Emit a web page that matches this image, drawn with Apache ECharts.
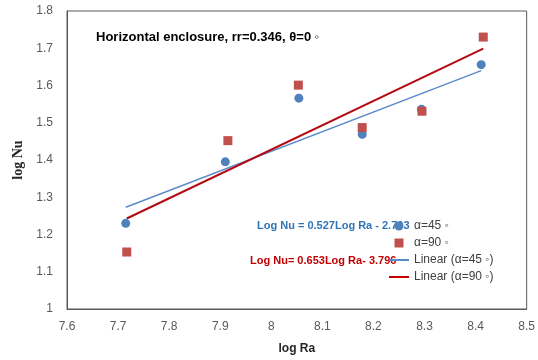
<!DOCTYPE html>
<html><head><meta charset="utf-8">
<script src="https://cdn.jsdelivr.net/npm/echarts@6/dist/echarts.min.js"></script>
<style>html,body{margin:0;padding:0;background:#fff}#c{width:538px;height:360px}</style>
</head><body><div id="c"></div>
<script>
const logRa45 = [7.715, 7.910, 8.054, 8.178, 8.294, 8.411];
const logNu45 = [1.230, 1.395, 1.566, 1.469, 1.536, 1.656];
const logRa90 = [7.717, 7.915, 8.053, 8.178, 8.295, 8.415];
const logNu90 = [1.153, 1.452, 1.601, 1.487, 1.531, 1.730];
const trend45X = [7.715, 8.411];
const trend45Y = [1.273, 1.640];
const trend90X = [7.717, 8.415];
const trend90Y = [1.243, 1.699];
const xTicks = [7.6, 7.7, 7.8, 7.9, 8, 8.1, 8.2, 8.3, 8.4, 8.5];
const yTicks = [1, 1.1, 1.2, 1.3, 1.4, 1.5, 1.6, 1.7, 1.8];
const titleText = 'Horizontal enclosure, rr=0.346, θ=0 ◦';
const eq45 = 'Log Nu = 0.527Log Ra - 2.793';
const eq90 = 'Log Nu= 0.653Log Ra- 3.796';
const names = ['α=45 ◦', 'α=90 ◦', 'Linear (α=45 ◦)', 'Linear (α=90 ◦)'];

const zip = (a, b) => a.map((v, i) => [v, b[i]]);
const chart = echarts.init(document.getElementById('c'), null, {renderer: 'canvas'});
const axisLbl = {color: '#595959', fontSize: 12, fontFamily: 'Liberation Sans, Arial, sans-serif'};
chart.setOption({
  animation: false,
  grid: {left: 67, right: 11, top: 11, bottom: 47, show: true, borderColor: '#595959', borderWidth: 1},
  xAxis: {
    type: 'value', min: xTicks[0], max: xTicks[xTicks.length - 1], interval: 0.1,
    axisLine: {show: true, lineStyle: {color: '#595959'}}, axisTick: {show: false}, splitLine: {show: false},
    axisLabel: Object.assign({margin: 12, formatter: v => String(+v.toFixed(1))}, axisLbl),
    name: 'log Ra', nameLocation: 'middle', nameGap: 34,
    nameTextStyle: {fontWeight: 'bold', fontSize: 12, color: '#262626', fontFamily: 'Liberation Sans, Arial, sans-serif'}
  },
  yAxis: {
    type: 'value', min: yTicks[0], max: yTicks[yTicks.length - 1], interval: 0.1,
    axisLine: {show: true, lineStyle: {color: '#595959'}}, axisTick: {show: false}, splitLine: {show: false},
    axisLabel: Object.assign({margin: 14, formatter: v => String(+v.toFixed(1))}, axisLbl),
    name: 'log Nu', nameLocation: 'middle', nameGap: 42, nameRotate: 90,
    nameTextStyle: {fontWeight: 'bold', fontSize: 14, color: '#262626', fontFamily: 'Liberation Serif, Times New Roman, serif'}
  },
  legend: {
    orient: 'vertical', left: 389, top: 220, padding: 0, itemWidth: 20, itemHeight: 9, itemGap: 5,
    symbolKeepAspect: true,
    textStyle: {fontSize: 12, color: '#404040', fontFamily: 'Liberation Sans, Arial, sans-serif'},
    data: [
      {name: names[0], icon: 'circle'},
      {name: names[1], icon: 'path://M0,0L10,0L10,10L0,10Z'},
      {name: names[2], icon: 'path://M0,0L40,0L40,4L0,4Z', itemStyle: {color: '#5B8BC7'}},
      {name: names[3], icon: 'path://M0,0L40,0L40,4L0,4Z', itemStyle: {color: '#C00000'}}
    ]
  },
  series: [
    {name: names[0], type: 'scatter', symbol: 'circle', symbolSize: 9, itemStyle: {color: '#4F81BD', opacity: 1}, data: zip(logRa45, logNu45), z: 3},
    {name: names[1], type: 'scatter', symbol: 'rect', symbolSize: 9, itemStyle: {color: '#C0504D', opacity: 1}, data: zip(logRa90, logNu90), z: 3},
    {name: names[2], type: 'line', showSymbol: false, symbol: 'none', lineStyle: {color: '#5B8BC7', width: 1.5}, itemStyle: {color: '#5B8BC7'}, data: zip(trend45X, trend45Y), z: 2},
    {name: names[3], type: 'line', showSymbol: false, symbol: 'none', lineStyle: {color: '#B40A14', width: 2}, itemStyle: {color: '#B40A14'}, data: zip(trend90X, trend90Y), z: 2}
  ],
  graphic: [
    {type: 'text', left: 96, top: 31, style: {text: titleText, font: 'bold 13px Liberation Sans, Arial, sans-serif', fill: '#000'}},
    {type: 'text', left: 257, top: 220, style: {text: eq45, font: 'bold 11px Liberation Sans, Arial, sans-serif', fill: '#2E75B6'}},
    {type: 'text', left: 250, top: 255, style: {text: eq90, font: 'bold 11px Liberation Sans, Arial, sans-serif', fill: '#C00000'}}
  ]
});
</script></body></html>
